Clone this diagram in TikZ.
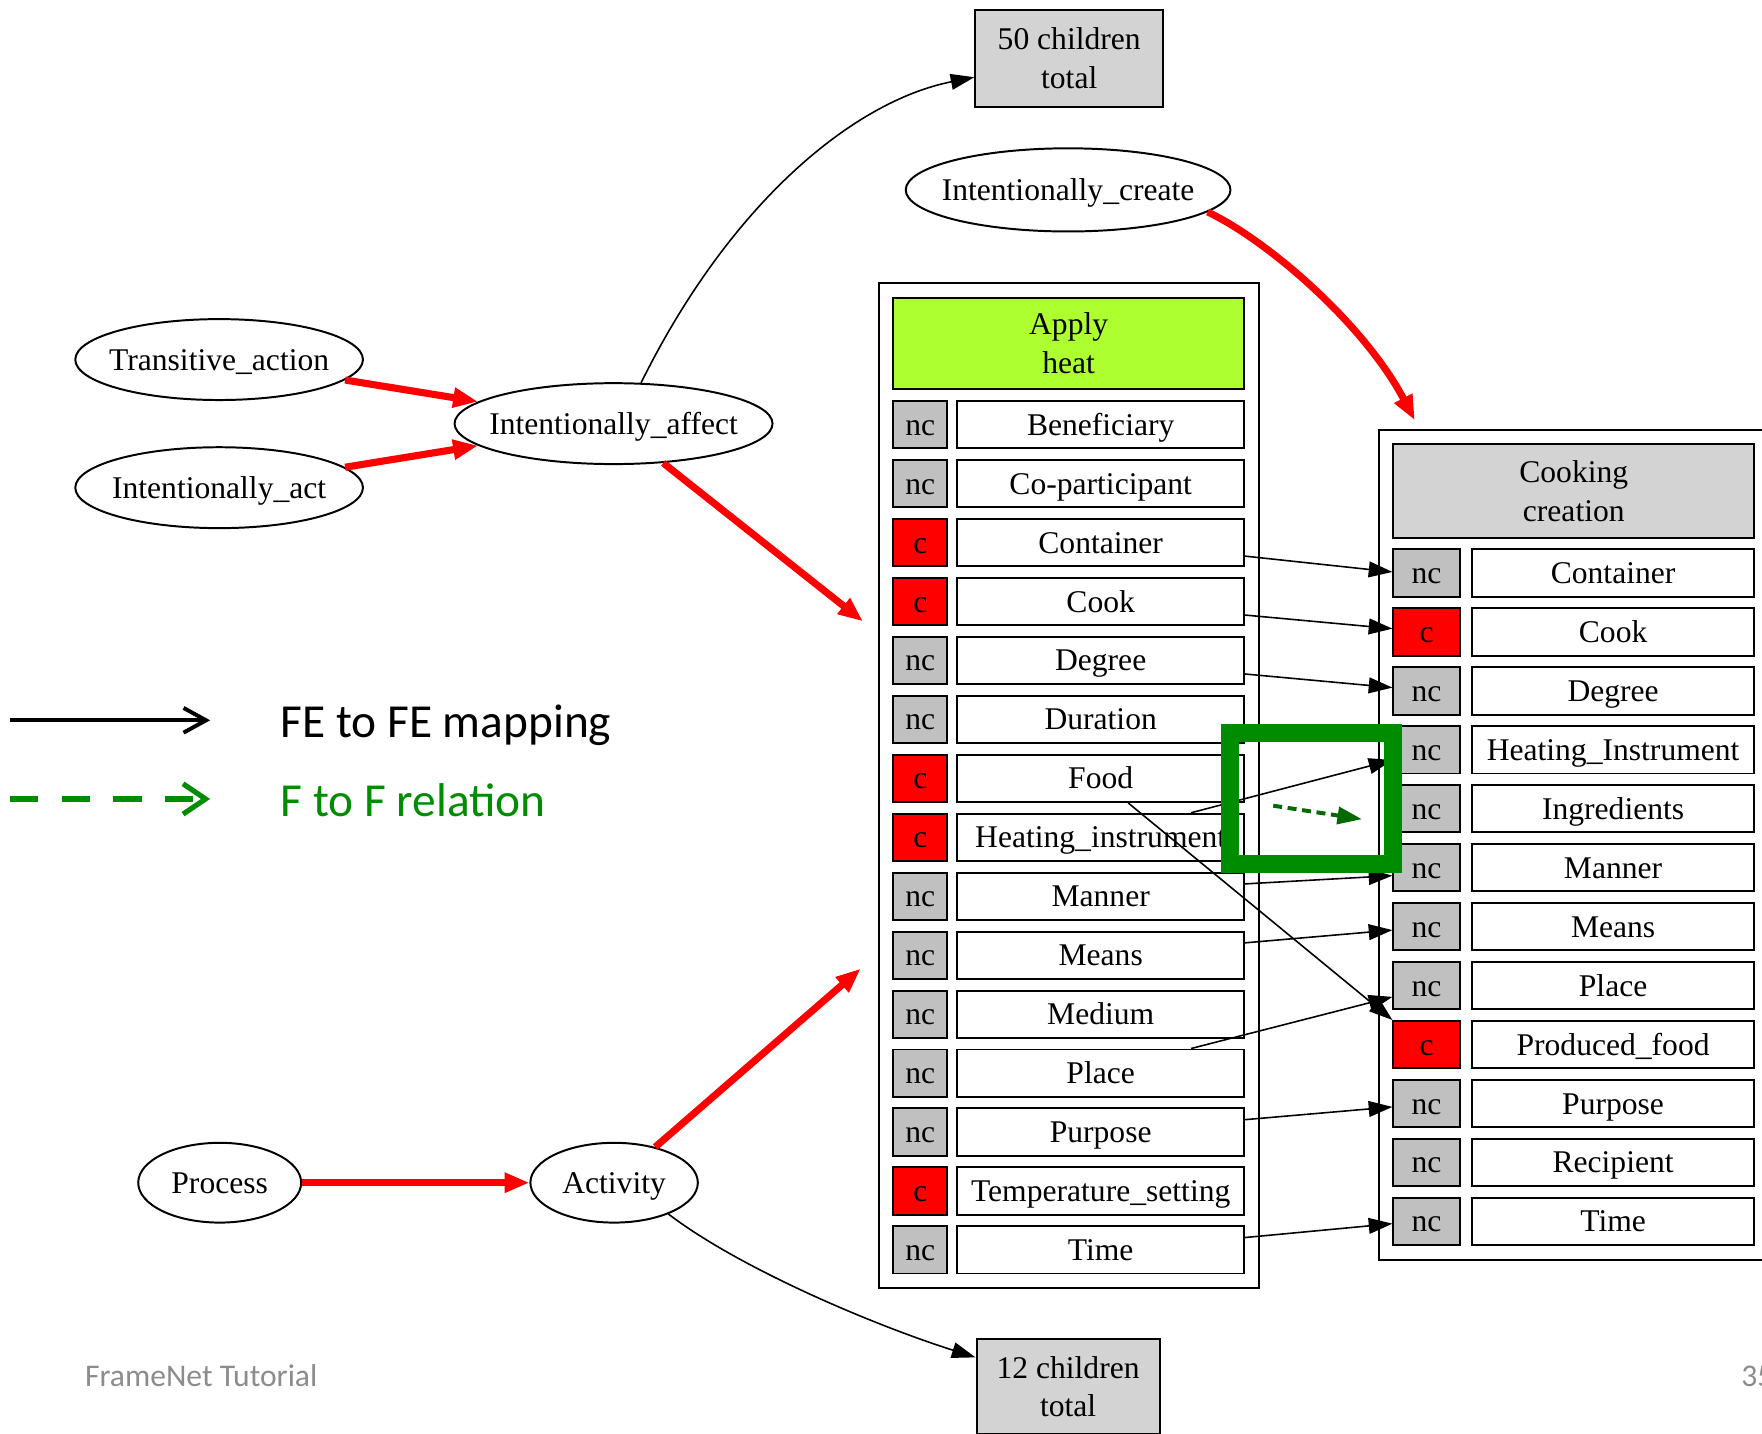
\documentclass[tikz,border=0pt]{standalone}
\usepackage{fontspec}
\setmainfont{Liberation Serif}
\newfontfamily\calibri{Carlito}
\usetikzlibrary{arrows.meta,shapes.geometric}
\definecolor{applygreen}{HTML}{ADFF2F}
\definecolor{boxgray}{HTML}{D3D3D3}
\definecolor{fenc}{HTML}{C0C0C0}
\definecolor{fec}{HTML}{FF0000}
\definecolor{markgreen}{RGB}{0,140,0}
\definecolor{dashgreen}{RGB}{0,105,0}
\definecolor{footgray}{RGB}{140,140,140}
\tikzset{
  txt/.style={font=\fontsize{8}{9.8}\selectfont, inner sep=0pt},
  oneline/.style={txt, text height=5.3pt, text depth=0pt},
  frame/.style={draw, line width=0.5pt, inner sep=0pt},
  head/.style={draw, line width=0.5pt, txt, align=center},
  rel/.style={ellipse, draw, line width=0.5pt, oneline, inner xsep=-1.2mm},
  fetag/.style={draw, line width=0.5pt, oneline, minimum height=4.2mm},
  fename/.style={draw, line width=0.5pt, fill=white, oneline, minimum height=4.2mm},
  fefe/.style={line width=0.4pt, -{Triangle[length=6pt,width=4pt]}},
  inh/.style={red, line width=1.8pt, -{Triangle[length=6.3pt,width=4.8pt]}}
}
\begin{document}
\begin{tikzpicture}[x=0.1mm,y=-0.1mm]
    \useasboundingbox (0,0) rectangle (1568,1276);
    % marcos
    \node[frame, minimum width=33.8mm, minimum height=89.4mm] (ahframe) at (951,699) {};
    \node[frame, minimum width=34.8mm, minimum height=73.8mm] (ccframe) at (1401,752) {};
    \node[head, fill=applygreen, minimum width=31.2mm, minimum height=8.1mm] (ahhead) at (951,305.5) {Apply\\heat};
    \node[head, fill=boxgray, minimum width=32.1mm, minimum height=8.4mm] (cchead) at (1400.5,437) {Cooking\\creation};
    % FEs de Apply heat
    \foreach \fe/\st [count=\i] in {Beneficiary/nc, Co-participant/nc, Container/c, Cook/c, Degree/nc, Duration/nc, Food/c, Heating\_instrument/c, Manner/nc, Means/nc, Medium/nc, Place/nc, Purpose/nc, Temperature\_setting/c, Time/nc}
    {
    \node[fetag, fill=fe\st, minimum width=4.8mm] (ahm\i) at (819,{378+52.45*(\i-1)}) {\st};
    \node[fename, minimum width=25.5mm] (ahfe\i) at (979.5,{378+52.45*(\i-1)}) {\fe};
    }
    % FEs de Cooking creation
    \foreach \fe/\st [count=\i] in {Container/nc, Cook/c, Degree/nc, Heating\_Instrument/nc, Ingredients/nc, Manner/nc, Means/nc, Place/nc, Produced\_food/c, Purpose/nc, Recipient/nc, Time/nc}
    {
    \node[fetag, fill=fe\st, minimum width=5.9mm] (ccm\i) at (1269.5,{510+52.45*(\i-1)}) {\st};
    \node[fename, minimum width=25.1mm] (ccfe\i) at (1435.5,{510+52.45*(\i-1)}) {\fe};
    }
    % marcos de relaciones
    \node[rel, minimum width=25.6mm, minimum height=7.2mm] (ta) at (195,320) {Transitive\_action};
    \node[rel, minimum width=25.6mm, minimum height=7.2mm] (iact) at (195,434) {Intentionally\_act};
    \node[rel, minimum width=28.3mm, minimum height=7.2mm] (iaff) at (546,377) {Intentionally\_affect};
    \node[rel, minimum width=28.9mm, minimum height=7.4mm] (icr) at (950.5,169) {Intentionally\_create};
    \node[rel, minimum width=14.5mm, minimum height=7.1mm] (proc) at (195.5,1052.5) {Process};
    \node[rel, minimum width=14.9mm, minimum height=7.1mm] (act) at (546.5,1052.5) {Activity};
    \node[head, fill=boxgray, minimum width=16.7mm, minimum height=8.6mm] (ch50) at (951.5,52) {50 children\\total};
    \node[head, fill=boxgray, minimum width=16.3mm, minimum height=8.4mm] (ch12) at (950.5,1234) {12 children\\total};
    % flechas rojas
    \coordinate (ahin1) at (768,553);
    \coordinate (ahin2) at (766,862);
    \coordinate (ccin) at (1259,374);
    \draw[inh] (ta) -- (iaff);
    \draw[inh] (iact) -- (iaff);
    \draw[inh] (proc) -- (act);
    \draw[inh] (iaff) -- (ahin1);
    \draw[inh] (act) -- (ahin2);
    \draw[inh] (icr.-9) .. controls (1130,215) and (1215,290) .. (ccin);
    % hijos
    \draw[fefe] (iaff.56) .. controls (650,180) and (760,90) .. (ch50);
    \draw[fefe] (act.-30) .. controls (660,1130) and (780,1180) .. (ch12);
    % FE a FE
    \foreach \a/\b/\s/\e in {3/1/-1.2/0.1, 4/2/-1.2/0.3, 5/3/-1.2/0.3, 9/6/1.1/-0.7, 10/7/1.1/-0.3, 13/10/1.1/-0.3, 15/12/1.1/-0.2}
    \draw[fefe] ([yshift=\s mm]ahfe\a.east) -- ([yshift=\e mm]ccm\b.west);
    \draw[fefe] ([xshift=8.05mm]ahfe8.north) -- ([yshift=-0.9mm]ccm4.west);
    \draw[fefe] ([xshift=8.05mm]ahfe12.north) -- ([yshift=-1mm]ccm8.west);
    \draw[fefe] ([xshift=2.45mm]ahfe7.south) -- (ccm9.north west);
    % leyenda
    \coordinate (lga) at (9,641);
    \coordinate (lgb) at (187,641);
    \coordinate (lgc) at (9,711);
    \coordinate (lgd) at (187,711);
    \draw[line width=1pt, -{Straight Barb[length=2mm,width=2.2mm]}] (lga) -- (lgb);
    \draw[markgreen, line width=1.3pt, dash pattern=on 2.5mm off 2.1mm, -{Straight Barb[length=2mm,width=2.7mm]}] (lgc) -- (lgd);
    \node[anchor=base west, inner sep=0pt, font=\calibri\fontsize{12}{14}\selectfont] (lgfe) at (249,656) {FE to FE mapping};
    \node[anchor=base west, inner sep=0pt, font=\calibri\fontsize{12}{14}\selectfont, text=markgreen] (lgff) at (249,727) {F to F relation};
    % pie
    \node[anchor=base west, inner sep=0pt, font=\calibri\fontsize{8}{10}\selectfont, text=footgray] (foot) at (75,1234) {FrameNet Tutorial};
    \node[anchor=base west, inner sep=0pt, font=\calibri\fontsize{8}{10}\selectfont, text=footgray] (pgnum) at (1549,1234) {35};
    % recuadro verde
    \coordinate (ffa) at (1133,717);
    \coordinate (ffb) at (1212,729);
    \draw[dashgreen, line width=1pt, dash pattern=on 0.8mm off 0.5mm, -{Triangle[length=6.2pt,width=4.3pt]}] (ffa) -- (ffb);
    \draw[markgreen, line width=4.55pt] (1094.5,652) rectangle (1239.5,769);
\end{tikzpicture}
\end{document}
